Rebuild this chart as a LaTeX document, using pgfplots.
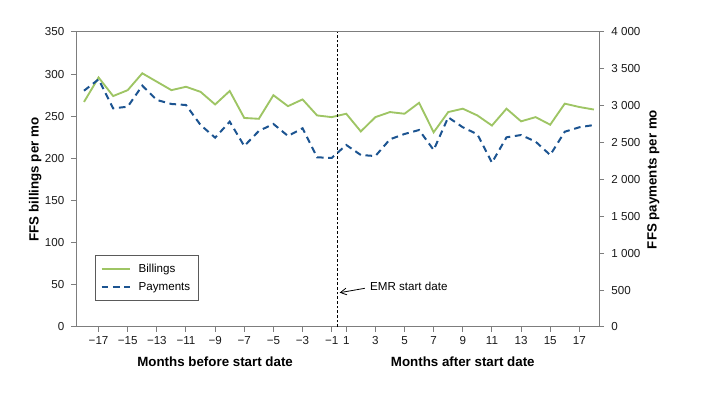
\documentclass[border=0pt]{standalone}
\usepackage{fontspec}
\setmainfont{Liberation Sans}
\usepackage{pgfplots}
\pgfplotsset{compat=1.18}
\usetikzlibrary{arrows.meta}
\definecolor{bgreen}{RGB}{158,197,100}
\definecolor{pblue}{RGB}{28,84,145}
\definecolor{axgray}{RGB}{125,125,125}
\definecolor{leggray}{RGB}{90,90,90}
\newcommand{\tickfont}{\fontsize{8.7}{10}\selectfont}
\newcommand{\labfont}{\fontsize{10}{12}\selectfont\bfseries}
\pgfplotsset{
  common/.style={
    at={(57pt,66.75pt)}, anchor=south west,
    scale only axis, width=392.25pt, height=221.25pt,
    xmin=-18.05, xmax=17.85,
    axis line style={axgray, line width=0.75pt},
    tick style={axgray, line width=0.75pt},
    tick align=outside,
    major tick length=3.75pt,
    /pgf/number format/assume math mode=true,
    tick label style={font=\tickfont, text=black!90},
  }
}
\begin{document}
\begin{tikzpicture}
\useasboundingbox (0,0) rectangle (528.75pt,312pt);
\begin{axis}[
  common,
  ymin=0, ymax=350,
  ytick={0,50,100,150,200,250,300,350},
  xtick={-16.5,-14.5,-12.5,-10.5,-8.5,-6.5,-4.5,-2.5,-0.5,0.5,2.5,4.5,6.5,8.5,10.5,12.5,14.5,16.5},
  xticklabels={−17,−15,−13,−11,−9,−7,−5,−3,−1,1,3,5,7,9,11,13,15,17},
  xtick pos=bottom, ytick pos=left,
  yticklabel style={xshift=-1.5pt},
  ylabel={FFS billings per mo},
  ylabel style={at={(axis description cs:-0.078,0.5)}, anchor=center, font=\labfont},
  clip=false,
  legend cell align=left,
  legend image code/.code={\draw[#1] (0pt,0pt) -- (21pt,0pt);},
  legend style={at={(rel axis cs:0.036,0.089)}, anchor=south west,
    draw=leggray, line width=0.75pt, fill=white,
    font=\tickfont, inner xsep=4pt, inner ysep=4pt, row sep=2pt,
    /tikz/every odd column/.append style={column sep=4pt}},
]
\addplot[bgreen, line width=1.4pt] coordinates {
(-17.5,267) (-16.5,296) (-15.5,274) (-14.5,281) (-13.5,301) (-12.5,291)
(-11.5,281) (-10.5,285) (-9.5,279) (-8.5,264) (-7.5,280) (-6.5,248)
(-5.5,247) (-4.5,275) (-3.5,262) (-2.5,270) (-1.5,251) (-0.5,249)
(0.5,253) (1.5,232) (2.5,249) (3.5,255) (4.5,253) (5.5,266)
(6.5,231) (7.5,255) (8.5,259) (9.5,251) (10.5,239) (11.5,259)
(12.5,244) (13.5,249) (14.5,240) (15.5,265) (16.5,261) (17.5,258)
};
\addlegendentry{Billings}
\addlegendimage{pblue, line width=1.5pt, dash pattern=on 5pt off 3.5pt}
\addlegendentry{Payments}
\draw[black, line width=0.6pt, dash pattern=on 2pt off 1.5pt] (axis cs:-0.1,0) -- (axis cs:-0.1,350);
\draw[black, line width=0.6pt, -{Straight Barb[length=4.5pt,width=5pt]}] (axis cs:1.77,45.9) -- (axis cs:0.05,40.7);
\node[font=\tickfont, anchor=west, inner sep=0pt] at (axis cs:2.12,47.8) {EMR start date};
\node[font=\labfont, yshift=-26.25pt] at (axis cs:-8.5,0) {Months before start date};
\node[font=\labfont, yshift=-26.25pt] at (axis cs:8.5,0) {Months after start date};
\end{axis}
\begin{axis}[
  common,
  ymin=0, ymax=4000,
  axis x line=none,
  axis y line*=right,
  ytick={0,500,1000,1500,2000,2500,3000,3500,4000},
  yticklabels={0,500,1 000,1 500,2 000,2 500,3 000,3 500,4 000},
  yticklabel style={anchor=west, xshift=2pt},
  ylabel={FFS payments per mo},
  ylabel style={at={(axis description cs:1.104,0.5)}, anchor=center, font=\labfont},
]
\addplot[pblue, line width=1.5pt, dash pattern=on 5pt off 3.5pt] coordinates {
(-17.5,3204) (-16.5,3358) (-15.5,2965) (-14.5,2987) (-13.5,3272) (-12.5,3078)
(-11.5,3024) (-10.5,3010) (-9.5,2739) (-8.5,2567) (-7.5,2784) (-6.5,2454)
(-5.5,2658) (-4.5,2753) (-3.5,2590) (-2.5,2694) (-1.5,2301) (-0.5,2292)
(0.5,2468) (1.5,2332) (2.5,2318) (3.5,2545) (4.5,2617) (5.5,2671)
(6.5,2400) (7.5,2843) (8.5,2708) (9.5,2613) (10.5,2228) (11.5,2572)
(12.5,2603) (13.5,2513) (14.5,2332) (15.5,2648) (16.5,2708) (17.5,2739)
};
\end{axis}
\end{tikzpicture}
\end{document}
